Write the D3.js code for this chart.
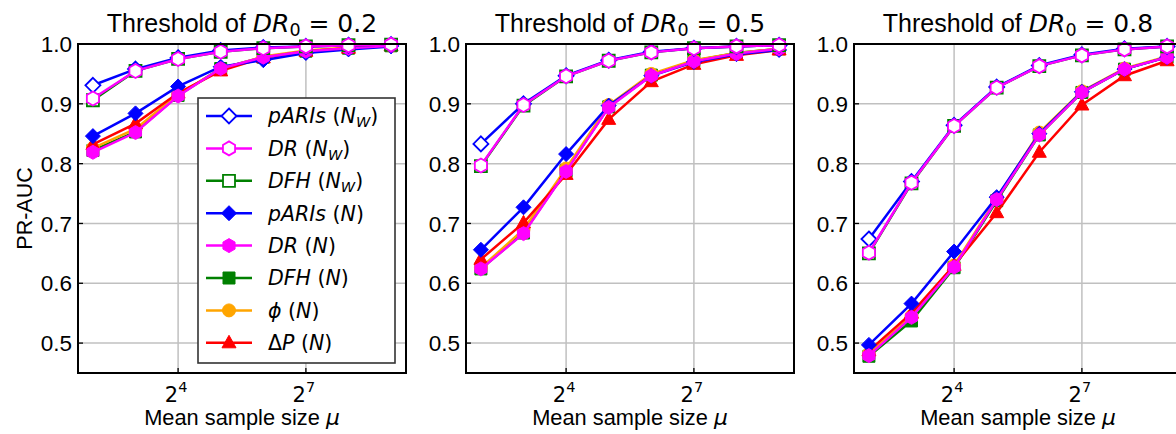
<!DOCTYPE html>
<html>
<head>
<meta charset="utf-8">
<script src="https://cdn.jsdelivr.net/npm/d3@7/dist/d3.min.js"></script>
<style>
  html, body { margin: 0; padding: 0; background: #fff; }
  svg { display: block; font-family: "Liberation Sans", Arial, sans-serif; }
  .math { font-family: "DejaVu Sans", sans-serif; }
</style>
</head>
<body>
<div id="chart"></div>
<script>
// mean sample size mu = 2^k
const exps = [2, 3, 4, 5, 6, 7, 8, 9];
const thresholds = ["0.2", "0.5", "0.8"];
const yTicks = [0.5, 0.6, 0.7, 0.8, 0.9, 1.0];
const xTickExps = [4, 7];

// one row per panel (DR0 = 0.2, 0.5, 0.8)
const pARIsW = [
  [0.931, 0.958, 0.977, 0.989, 0.994, 0.996, 0.998, 0.999],
  [0.833, 0.900, 0.947, 0.973, 0.987, 0.993, 0.996, 0.998],
  [0.674, 0.770, 0.864, 0.928, 0.964, 0.982, 0.992, 0.996]
];
const drW = [
  [0.909, 0.955, 0.975, 0.987, 0.993, 0.996, 0.998, 0.999],
  [0.797, 0.898, 0.946, 0.972, 0.986, 0.993, 0.996, 0.998],
  [0.651, 0.768, 0.863, 0.927, 0.963, 0.981, 0.991, 0.996]
];
const dfhW = [
  [0.906, 0.955, 0.975, 0.987, 0.993, 0.996, 0.998, 0.999],
  [0.796, 0.897, 0.946, 0.972, 0.986, 0.993, 0.996, 0.998],
  [0.650, 0.767, 0.863, 0.927, 0.963, 0.981, 0.991, 0.996]
];
const pARIsN = [
  [0.846, 0.884, 0.929, 0.962, 0.973, 0.985, 0.991, 0.996],
  [0.656, 0.727, 0.816, 0.897, 0.947, 0.970, 0.983, 0.990],
  [0.497, 0.566, 0.653, 0.744, 0.850, 0.920, 0.958, 0.978]
];
const drN = [
  [0.819, 0.852, 0.913, 0.959, 0.978, 0.988, 0.993, 0.997],
  [0.624, 0.683, 0.787, 0.894, 0.947, 0.971, 0.984, 0.992],
  [0.479, 0.543, 0.627, 0.740, 0.848, 0.919, 0.958, 0.978]
];
const dfhN = [
  [0.822, 0.853, 0.914, 0.959, 0.978, 0.988, 0.993, 0.997],
  [0.624, 0.684, 0.788, 0.895, 0.948, 0.972, 0.985, 0.992],
  [0.478, 0.537, 0.626, 0.738, 0.848, 0.919, 0.958, 0.978]
];
const phiN = [
  [0.826, 0.858, 0.916, 0.958, 0.979, 0.989, 0.994, 0.997],
  [0.626, 0.690, 0.792, 0.898, 0.950, 0.973, 0.985, 0.992],
  [0.482, 0.545, 0.630, 0.742, 0.852, 0.921, 0.959, 0.979]
];
const deltaPN = [
  [0.832, 0.867, 0.918, 0.955, 0.977, 0.988, 0.993, 0.997],
  [0.640, 0.701, 0.782, 0.874, 0.937, 0.966, 0.981, 0.990],
  [0.487, 0.550, 0.630, 0.718, 0.819, 0.898, 0.947, 0.972]
];

// legend order; z = draw order (higher on top)
const series = [
  { name: "pARIs", sub: "W", ital: true, color: "#0000ff", marker: "diamond", open: true, values: pARIsW, z: 7 },
  { name: "DR", sub: "W", ital: true, color: "#ff00ff", marker: "hexagon", open: true, values: drW, z: 8 },
  { name: "DFH", sub: "W", ital: true, color: "#008000", marker: "square", open: true, values: dfhW, z: 6 },
  { name: "pARIs", sub: null, ital: true, color: "#0000ff", marker: "diamond", open: false, values: pARIsN, z: 4 },
  { name: "DR", sub: null, ital: true, color: "#ff00ff", marker: "hexagon", open: false, values: drN, z: 5 },
  { name: "DFH", sub: null, ital: true, color: "#008000", marker: "square", open: false, values: dfhN, z: 1 },
  { name: "\u03d5", sub: null, ital: true, color: "#ffa500", marker: "circle", open: false, values: phiN, z: 2 },
  { name: "\u0394P", sub: null, ital: false, color: "#ff0000", marker: "triangle", open: false, values: deltaPN, z: 3 }
];

const W = 1176, H = 434;
const panelX = [78, 466, 854], pw = 328;
const yTop = 44, yBot = 373;

const svg = d3.select("#chart").append("svg").attr("width", W).attr("height", H);

function markerPath(type) {
  if (type === "diamond") return "M0,-7.5L7.5,0L0,7.5L-7.5,0Z";
  if (type === "square") return "M-6,-6H6V6H-6Z";
  if (type === "triangle") return "M0,-7.5L7,5L-7,5Z";
  if (type === "circle") return d3.symbol(d3.symbolCircle, Math.PI * 42)();
  // hexagon, pointy top
  const r = 7;
  return d3.range(6).map((i) => {
    const a = -Math.PI / 2 + i * Math.PI / 3;
    return (i ? "L" : "M") + (r * Math.cos(a)).toFixed(2) + "," + (r * Math.sin(a)).toFixed(2);
  }).join("") + "Z";
}

function drawMarker(g, s, x, y) {
  g.append("path").attr("d", markerPath(s.marker))
    .attr("transform", `translate(${x},${y})`)
    .attr("fill", s.open ? "#fff" : s.color)
    .attr("stroke", s.color).attr("stroke-width", s.open ? 1.8 : 1);
}

const y = d3.scaleLinear().domain([0.45, 1.0]).range([yBot, yTop]);

thresholds.forEach((thr, p) => {
  const x0 = panelX[p];
  const x = d3.scaleLog().base(2).domain([Math.pow(2, 1.65), Math.pow(2, 9.35)]).range([x0, x0 + pw]);
  const g = svg.append("g");

  const clipId = "clip" + p;
  g.append("clipPath").attr("id", clipId).append("rect")
    .attr("x", x0 - 10).attr("y", yTop - 10).attr("width", pw + 20).attr("height", yBot - yTop + 20);

  // grid
  g.selectAll(".gy").data(yTicks).join("line")
    .attr("x1", x0).attr("x2", x0 + pw).attr("y1", (d) => y(d)).attr("y2", (d) => y(d))
    .attr("stroke", "#c0c0c0").attr("stroke-width", 1.5);
  g.selectAll(".gx").data(xTickExps).join("line")
    .attr("x1", (d) => x(Math.pow(2, d))).attr("x2", (d) => x(Math.pow(2, d)))
    .attr("y1", yTop).attr("y2", yBot)
    .attr("stroke", "#c0c0c0").attr("stroke-width", 1.5);

  // ticks (inward)
  g.selectAll(".ty").data(yTicks).join("line")
    .attr("x1", x0).attr("x2", x0 + 5).attr("y1", (d) => y(d)).attr("y2", (d) => y(d))
    .attr("stroke", "#000").attr("stroke-width", 1.3);
  g.selectAll(".tx").data(xTickExps).join("line")
    .attr("x1", (d) => x(Math.pow(2, d))).attr("x2", (d) => x(Math.pow(2, d)))
    .attr("y1", yBot).attr("y2", yBot - 5)
    .attr("stroke", "#000").attr("stroke-width", 1.3);

  // tick labels
  g.selectAll(".ly").data(yTicks).join("text")
    .attr("x", x0 - 6).attr("y", (d) => y(d)).attr("dy", "0.36em")
    .attr("text-anchor", "end").attr("font-size", 22.5).attr("fill", "#000")
    .text((d) => d.toFixed(1));
  const xl = g.selectAll(".lx").data(xTickExps).join("text")
    .attr("class", "math")
    .attr("x", (d) => x(Math.pow(2, d)) - 2).attr("y", 402)
    .attr("text-anchor", "middle").attr("font-size", 21).attr("fill", "#000");
  xl.append("tspan").text("2");
  xl.append("tspan").attr("dy", -10).attr("font-size", 14.5).text((d) => d);

  // x label
  const xt = g.append("text").attr("x", x0 + pw / 2).attr("y", 425)
    .attr("text-anchor", "middle").attr("font-size", 21.8).attr("fill", "#000");
  xt.append("tspan").text("Mean sample size ");
  xt.append("tspan").attr("class", "math").attr("font-style", "italic").text("\u03bc");

  // title
  const tt = g.append("text").attr("x", x0 + pw / 2).attr("y", 32)
    .attr("text-anchor", "middle").attr("font-size", 25).attr("fill", "#000");
  tt.append("tspan").text("Threshold of ");
  tt.append("tspan").attr("class", "math").attr("font-style", "italic").text("DR");
  tt.append("tspan").attr("class", "math").attr("font-size", 17.5).attr("dy", 4).text("0");
  tt.append("tspan").attr("class", "math").attr("dy", -4).text(" = " + thr);

  // series
  const plot = g.append("g").attr("clip-path", `url(#${clipId})`);
  const line = d3.line().x((d, i) => x(Math.pow(2, exps[i]))).y((d) => y(d));
  series.slice().sort((a, b) => a.z - b.z).forEach((s) => {
    const vals = s.values[p];
    const sg = plot.append("g");
    sg.append("path").datum(vals).attr("d", line)
      .attr("fill", "none").attr("stroke", s.color).attr("stroke-width", 2.5);
    vals.forEach((v, i) => drawMarker(sg, s, x(Math.pow(2, exps[i])), y(v)));
  });

  // frame
  g.append("rect").attr("x", x0).attr("y", yTop).attr("width", pw).attr("height", yBot - yTop)
    .attr("fill", "none").attr("stroke", "#000").attr("stroke-width", 2);
});

// y label
svg.append("text").attr("transform", `translate(32,${(yTop + yBot) / 2}) rotate(-90)`)
  .attr("text-anchor", "middle").attr("font-size", 21.5).attr("fill", "#000").text("PR-AUC");

// legend in first panel
const lg = svg.append("g");
lg.append("rect").attr("x", 198).attr("y", 98).attr("width", 197).attr("height", 265)
  .attr("fill", "#fff").attr("stroke", "#333").attr("stroke-width", 1.6);
series.forEach((s, i) => {
  const ly = 116 + i * 32.4;
  lg.append("line").attr("x1", 206).attr("x2", 252).attr("y1", ly).attr("y2", ly)
    .attr("stroke", s.color).attr("stroke-width", 2.5);
  drawMarker(lg, s, 229, ly);
  const t = lg.append("text").attr("class", "math").attr("x", 268).attr("y", ly).attr("dy", "0.36em")
    .attr("font-size", 20.5).attr("fill", "#000");
  if (s.ital) {
    t.append("tspan").attr("font-style", "italic").text(s.name);
  } else {
    t.append("tspan").text("\u0394");
    t.append("tspan").attr("font-style", "italic").text("P");
  }
  t.append("tspan").text(" (");
  t.append("tspan").attr("font-style", "italic").text("N");
  if (s.sub) {
    t.append("tspan").attr("font-style", "italic").attr("font-size", 14.5).attr("dy", 4).text(s.sub);
    t.append("tspan").attr("dy", -4).text(")");
  } else {
    t.append("tspan").text(")");
  }
});
</script>
</body>
</html>
